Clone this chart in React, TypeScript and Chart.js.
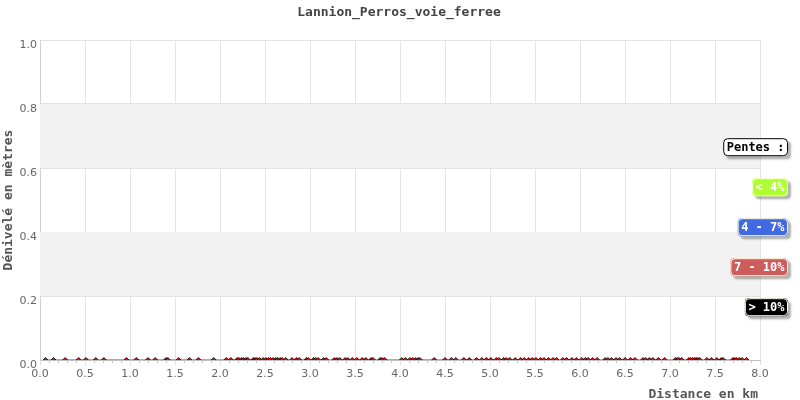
import React, { useEffect, useRef } from "react";
import { Chart, registerables } from "chart.js";

Chart.register(...registerables);

const chartTitle = "Lannion_Perros_voie_ferree";
const xTitle = "Distance en km";
const yTitle = "Dénivelé en mètres";

const distancesKm: number[] = [
  0.06, 0.15, 0.28, 0.43, 0.51, 0.62, 0.71, 0.96, 1.07, 1.2, 1.28, 1.4, 1.42, 1.54, 1.66, 1.76,
  1.93, 2.07, 2.12, 2.19, 2.21, 2.24, 2.26, 2.29, 2.31, 2.37, 2.39, 2.41, 2.44, 2.48, 2.51, 2.54,
  2.56, 2.59, 2.62, 2.64, 2.67, 2.69, 2.73, 2.8, 2.85, 2.88, 2.96, 2.98, 3.04, 3.06, 3.09, 3.15,
  3.18, 3.27, 3.3, 3.33, 3.39, 3.42, 3.47, 3.52, 3.58, 3.62, 3.68, 3.7, 3.78, 3.8, 3.83, 4.02,
  4.06, 4.11, 4.14, 4.17, 4.2, 4.22, 4.38, 4.5, 4.57, 4.62, 4.71, 4.77, 4.85, 4.91, 4.96, 5.01,
  5.07, 5.1, 5.15, 5.18, 5.22, 5.28, 5.34, 5.38, 5.43, 5.47, 5.51, 5.56, 5.6, 5.65, 5.7, 5.74,
  5.81, 5.85, 5.91, 5.96, 6.02, 6.06, 6.09, 6.14, 6.19, 6.28, 6.31, 6.35, 6.4, 6.44, 6.5, 6.56,
  6.61, 6.7, 6.73, 6.77, 6.81, 6.87, 6.94, 7.06, 7.08, 7.1, 7.13, 7.21, 7.23, 7.25, 7.27, 7.29,
  7.31, 7.33, 7.41, 7.46, 7.52, 7.57, 7.59, 7.7, 7.72, 7.74, 7.77, 7.8, 7.85,
];
const elevations: number[] = distancesKm.map(() => 0);

const legendLabels = ["Pentes :", "< 4%", "4 - 7%", "7 - 10%", "> 10%"];
const legendFills = ["#ffffff", "#adff2f", "#4169e1", "#cd5c5c", "#000000"];
const legendText = ["#000000", "#ffffff", "#ffffff", "#ffffff", "#ffffff"];
const legendBorders = ["#000000", "#fffde0", "#fffde0", "#fffde0", "#fffde0"];
const legendValues = [0.665, 0.54, 0.415, 0.29, 0.165];

const BAND_COLOR = "#f2f2f2";

function roundRect(ctx: CanvasRenderingContext2D, x: number, y: number, w: number, h: number, r: number) {
  ctx.beginPath();
  ctx.moveTo(x + r, y);
  ctx.lineTo(x + w - r, y);
  ctx.quadraticCurveTo(x + w, y, x + w, y + r);
  ctx.lineTo(x + w, y + h - r);
  ctx.quadraticCurveTo(x + w, y + h, x + w - r, y + h);
  ctx.lineTo(x + r, y + h);
  ctx.quadraticCurveTo(x, y + h, x, y + h - r);
  ctx.lineTo(x, y + r);
  ctx.quadraticCurveTo(x, y, x + r, y);
  ctx.closePath();
}

const decorPlugin = {
  id: "decor",
  beforeDatasetsDraw(chart: any) {
    const { ctx, chartArea, scales } = chart;
    const y = scales.y;
    ctx.save();
    ctx.fillStyle = BAND_COLOR;
    [[0.2, 0.4], [0.6, 0.8]].forEach(([a, b]) => {
      const top = y.getPixelForValue(b);
      const bot = y.getPixelForValue(a);
      ctx.fillRect(chartArea.left, top, chartArea.right - chartArea.left, bot - top);
    });
    ctx.restore();
  },
  afterDraw(chart: any) {
    const { ctx, chartArea, scales } = chart;
    const x = scales.x;
    const y = scales.y;
    ctx.save();
    ctx.strokeStyle = "#c8c8c8";
    ctx.lineWidth = 1;
    for (let i = 0; i <= 80; i++) {
      if (i % 5 === 0) continue;
      const px = Math.round(x.getPixelForValue(i / 10)) + 0.5;
      ctx.beginPath();
      ctx.moveTo(px, chartArea.bottom);
      ctx.lineTo(px, chartArea.bottom + 3);
      ctx.stroke();
    }
    ctx.fillStyle = "#444";
    ctx.font = "bold 13px 'DejaVu Sans Mono'";
    ctx.textAlign = "center";
    ctx.textBaseline = "middle";
    ctx.fillText(chartTitle, 399, 13);
    ctx.fillStyle = "#555";
    ctx.textAlign = "right";
    ctx.fillText(xTitle, 758, 395);
    ctx.save();
    ctx.translate(9, y.getPixelForValue(0.5));
    ctx.rotate(-Math.PI / 2);
    ctx.textAlign = "center";
    ctx.fillText(yTitle, 0, 0);
    ctx.restore();
    ctx.font = "bold 12px 'DejaVu Sans Mono'";
    ctx.textAlign = "center";
    const right = 788;
    legendLabels.forEach((lab, i) => {
      const tw = ctx.measureText(lab).width;
      const w = tw + 7;
      const h = 18;
      const cy = y.getPixelForValue(legendValues[i]);
      const bx = right - w;
      const by = cy - h / 2;
      ctx.save();
      ctx.shadowColor = "rgba(0,0,0,0.3)";
      ctx.shadowOffsetX = 3;
      ctx.shadowOffsetY = 3;
      ctx.shadowBlur = 2;
      roundRect(ctx, bx, by, w, h, 4);
      ctx.fillStyle = legendFills[i];
      ctx.fill();
      ctx.restore();
      roundRect(ctx, bx + 0.5, by + 0.5, w - 1, h - 1, 4);
      ctx.strokeStyle = legendBorders[i];
      ctx.lineWidth = 1;
      ctx.stroke();
      ctx.fillStyle = legendText[i];
      ctx.fillText(lab, bx + w / 2, cy + 1);
    });
    ctx.restore();
  },
};

export default function App() {
  const ref = useRef<HTMLCanvasElement>(null);
  useEffect(() => {
    if (!ref.current) return;
    const chart = new Chart(ref.current, {
      type: "line",
      data: {
        datasets: [
          {
            data: distancesKm.map((d, i) => ({ x: d, y: elevations[i] })),
            borderColor: "#7cb5ec",
            borderWidth: 2,
            pointRadius: 2.5,
            pointBackgroundColor: "#ff0000",
            pointBorderColor: "#000000",
            pointBorderWidth: 0.8,
            pointStyle: "rectRot",
            tension: 0,
          },
        ],
      },
      options: {
        responsive: false,
        animation: false,
        layout: { padding: { top: 40, right: 40, left: 0, bottom: 0 } },
        plugins: { legend: { display: false }, tooltip: { enabled: false }, title: { display: false } },
        scales: {
          x: {
            type: "linear",
            min: 0,
            max: 8,
            afterFit: (s: any) => { s.height = 40; },
            ticks: {
              stepSize: 0.5,
              padding: 3,
              color: "#666",
              font: { family: "'DejaVu Sans'", size: 11 },
              callback: (v: any) => Number(v).toFixed(1),
            },
            grid: { color: "#e3e3e3", tickLength: 5, drawTicks: true },
            border: { color: "#c0c0c0" },
          },
          y: {
            min: 0,
            max: 1,
            afterFit: (s: any) => { s.width = 40; },
            ticks: {
              stepSize: 0.2,
              padding: 3,
              labelOffset: 5,
              color: "#666",
              font: { family: "'DejaVu Sans'", size: 11 },
              callback: (v: any) => Number(v).toFixed(1),
            },
            grid: { color: "#e3e3e3", drawTicks: false },
            border: { color: "#d0d0d0" },
          },
        },
      },
      plugins: [decorPlugin],
    });
    return () => chart.destroy();
  }, []);
  return (
    <div style={{ position: "fixed", left: 0, top: 0, width: 800, height: 400, background: "#fff" }}>
      <canvas ref={ref} width={800} height={400} style={{ display: "block", width: 800, height: 400 }} />
    </div>
  );
}
